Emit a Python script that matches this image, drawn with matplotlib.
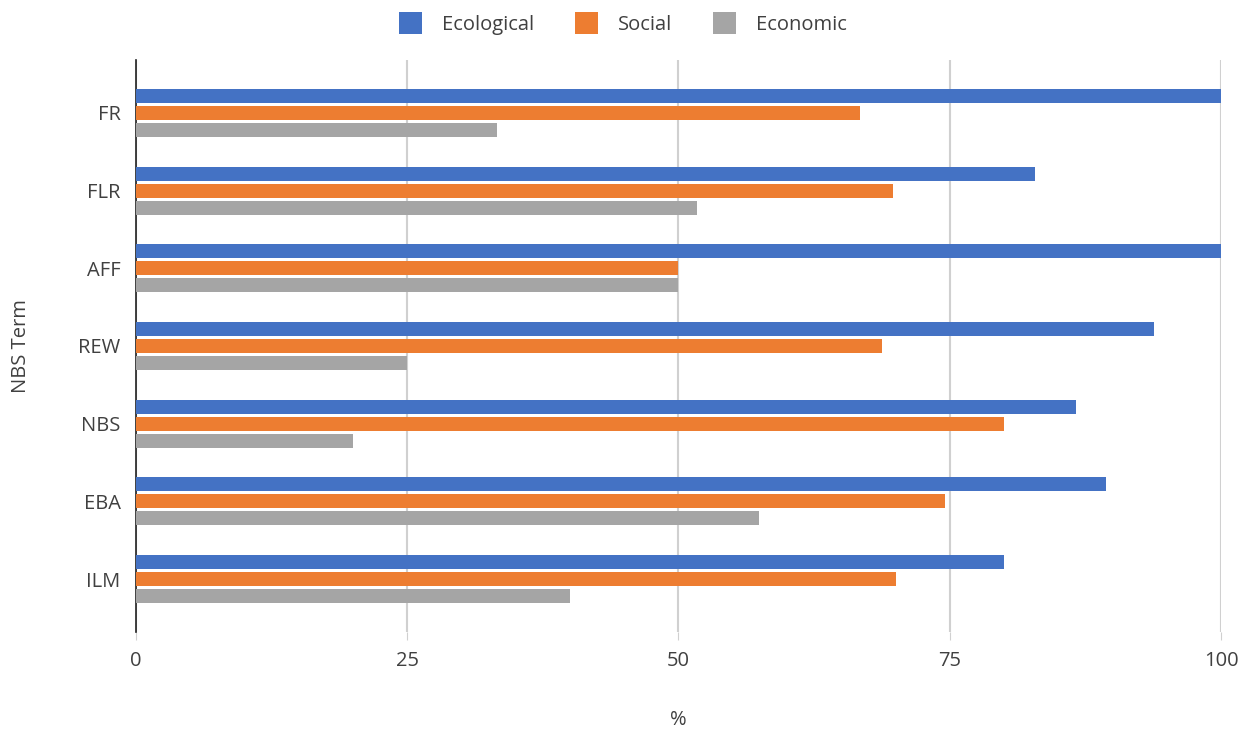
import matplotlib.pyplot as plt
import numpy as np

terms = ["FR", "FLR", "AFF", "REW", "NBS", "EBA", "ILM"]
ecological = [100, 82.9, 100, 93.8, 86.6, 89.4, 80]
social = [66.7, 69.8, 50, 68.8, 80, 74.6, 70]
economic = [33.3, 51.7, 50, 25, 20, 57.4, 40]

plt.rcParams['font.family'] = ['Open Sans', 'DejaVu Sans']
text_color = '#404040'

fig = plt.figure(figsize=(12.46, 7.33), dpi=100)
ax = fig.add_axes([0.109, 0.138, 0.871, 0.780])

y = np.arange(len(terms))
h = 0.18
off = 0.22
ax.barh(y - off, ecological, height=h, color='#4472C4', label='Ecological', zorder=3)
ax.barh(y, social, height=h, color='#ED7D31', label='Social', zorder=3)
ax.barh(y + off, economic, height=h, color='#A5A5A5', label='Economic', zorder=3)

ax.set_xlim(0, 100)
ax.set_ylim(len(terms) - 1 + 0.68, -0.68)
ax.set_yticks(y)
ax.set_yticklabels(terms)
ax.set_xticks([0, 25, 50, 75, 100])

ax.grid(axis='x', color='#D0D0D0', linewidth=1.5, zorder=0)
for s in ['top', 'right', 'bottom']:
    ax.spines[s].set_visible(False)
ax.spines['left'].set_color('#202020')
ax.spines['left'].set_linewidth(1.2)

ax.tick_params(axis='y', length=0, pad=11, labelsize=14.5, labelcolor=text_color)
ax.tick_params(axis='x', length=6, color='#D0D0D0', pad=8, labelsize=14.5, labelcolor=text_color)

ax.set_xlabel('%', fontsize=14.5, color=text_color, labelpad=28)
ax.set_ylabel('NBS Term', fontsize=14.5, color=text_color, labelpad=34)

leg = fig.legend(loc='upper center', bbox_to_anchor=(0.5, 1.008), ncol=3, frameon=False,
                 fontsize=14.5, handlelength=1.15, handleheight=1.3, columnspacing=2.0,
                 handletextpad=1.0)
for t in leg.get_texts():
    t.set_color(text_color)

fig.savefig('out.png', dpi=100)
